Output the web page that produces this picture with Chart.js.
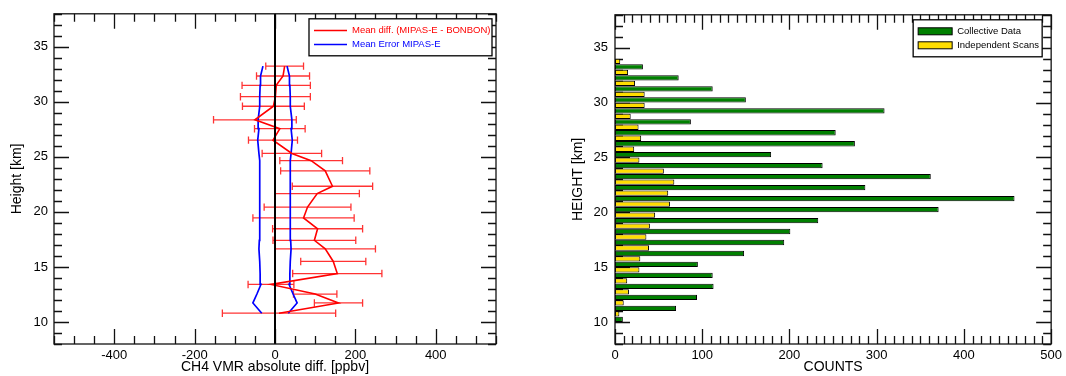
<!DOCTYPE html>
<html>
<head>
<meta charset="utf-8">
<script src="https://cdn.jsdelivr.net/npm/chart.js@4.4.1/dist/chart.umd.min.js"></script>
<style>
body { margin: 0; background: #fff; }
#wrap { position: relative; width: 1066px; height: 376px; }
canvas { position: absolute; top: 0; }
#left { left: 0; }
#right { left: 533px; }
</style>
</head>
<body>
<div id="wrap">
<canvas id="left" width="533" height="376"></canvas>
<canvas id="right" width="533" height="376"></canvas>
</div>
<script>
// left panel: CH4 difference profile (MIPAS-E - BONBON)
var diffHeights = [10.8, 11.73, 12.54, 13.41, 14.4, 15.5, 16.64, 17.42, 18.47, 19.45, 20.44, 21.67, 22.33, 23.73, 24.66, 25.31, 26.52, 27.56, 28.37, 29.6, 30.47, 31.5, 32.35, 33.25];
var meanDiff = [10, 158, 100, -10, 155, 145, 125, 98, 106, 71, 81, 105, 143, 125, 90, 42, -5, 12, -50, -4, 1, 3, 20, 24];
var diffSpread = [141, 60, 54, 57, 111, 81, 125, 103, 112, 126, 108, 105, 100, 111, 78, 74, 61, 63, 103, 77, 87, 85, 66, 47];
var meanError = [33, 55, 45, 35, 37, 38, 40, 39, 38, 38, 38, 38, 38, 38, 38, 40, 43, 40, 42, 38, 38, 37, 36, 30];
var diffTicks = [-400, -200, 0, 200, 400];

// right panel: counts per height bin
var collectiveHeights = [10.25, 11.25, 12.25, 13.25, 14.25, 15.25, 16.25, 17.25, 18.25, 19.25, 20.25, 21.25, 22.25, 23.25, 24.25, 25.25, 26.25, 27.25, 28.25, 29.25, 30.25, 31.25, 32.25, 33.25];
var collectiveCounts = [9, 70, 94, 113, 112, 95, 148, 194, 201, 233, 371, 458, 287, 362, 238, 179, 275, 253, 87, 309, 150, 112, 73, 32];
var independentHeights = [10.75, 11.75, 12.75, 13.75, 14.75, 15.75, 16.75, 17.75, 18.75, 19.75, 20.75, 21.75, 22.75, 23.75, 24.75, 25.75, 26.75, 27.75, 28.75, 29.75, 30.75, 31.75, 32.75, 33.75];
var independentCounts = [5, 10, 16, 14, 28, 29, 39, 36, 40, 46, 63, 61, 68, 56, 28, 22, 30, 27, 18, 34, 34, 23, 15, 6];
var countTicks = [0, 100, 200, 300, 400, 500];

var heightTicks = [10, 15, 20, 25, 30, 35];
var heightMin = 8, heightMax = 38;

var font = "'Liberation Sans', Arial, Helvetica, sans-serif";
Chart.defaults.font.family = font;
Chart.defaults.color = '#000';

function points(xs, ys) {
    return xs.map(function (v, i) { return { x: v, y: ys[i] }; });
}

function isMultiple(v, step) {
    var r = Math.abs(v / step - Math.round(v / step));
    return r < 1e-6;
}

// inward ticks on all four sides, IDL style
var frameTicks = {
    id: 'frameTicks',
    beforeDatasetsDraw: function (chart, args, o) {
        var ctx = chart.ctx, a = chart.chartArea;
        var xs = chart.scales.x, ys = chart.scales.y;
        ctx.save();
        ctx.strokeStyle = '#111';
        ctx.lineWidth = 1.3;
        ctx.beginPath();
        var v, p, len;
        for (v = Math.ceil(xs.min / o.xMinor) * o.xMinor; v <= xs.max + 1e-6; v += o.xMinor) {
            p = Math.round(xs.getPixelForValue(v)) + 0.5;
            len = isMultiple(v, o.xMajor) ? 15 : 8;
            ctx.moveTo(p, a.bottom); ctx.lineTo(p, a.bottom - len);
            ctx.moveTo(p, a.top); ctx.lineTo(p, a.top + len);
        }
        for (v = Math.ceil(ys.min / o.yMinor) * o.yMinor; v <= ys.max + 1e-6; v += o.yMinor) {
            p = Math.round(ys.getPixelForValue(v)) + 0.5;
            len = isMultiple(v, o.yMajor) ? 15 : 8;
            ctx.moveTo(a.left, p); ctx.lineTo(a.left + len, p);
            ctx.moveTo(a.right, p); ctx.lineTo(a.right - len, p);
        }
        ctx.stroke();
        ctx.restore();
    },
    afterDatasetsDraw: function (chart) {
        var ctx = chart.ctx, a = chart.chartArea;
        ctx.save();
        ctx.strokeStyle = '#111';
        ctx.lineWidth = 1.3;
        ctx.strokeRect(a.left, a.top, a.right - a.left, a.bottom - a.top);
        ctx.restore();
    }
};

// horizontal error bars for datasets that carry an "errors" array
var errorBars = {
    id: 'errorBars',
    beforeDatasetsDraw: function (chart) {
        var ctx = chart.ctx, a = chart.chartArea;
        var xs = chart.scales.x, ys = chart.scales.y;
        ctx.save();
        ctx.beginPath();
        ctx.rect(a.left, a.top, a.right - a.left, a.bottom - a.top);
        ctx.clip();
        chart.data.datasets.forEach(function (ds) {
            if (!ds.errors) return;
            ctx.strokeStyle = 'rgba(255, 0, 0, 0.8)';
            ctx.lineWidth = 1.3;
            ctx.beginPath();
            ds.data.forEach(function (pt, i) {
                var y = ys.getPixelForValue(pt.y);
                var x1 = xs.getPixelForValue(pt.x - ds.errors[i]);
                var x2 = xs.getPixelForValue(pt.x + ds.errors[i]);
                ctx.moveTo(x1, y); ctx.lineTo(x2, y);
                ctx.moveTo(x1, y - 3.7); ctx.lineTo(x1, y + 3.7);
                ctx.moveTo(x2, y - 3.7); ctx.lineTo(x2, y + 3.7);
            });
            ctx.stroke();
        });
        ctx.restore();
    }
};

// boxed legend in the upper right corner of the plot
var boxLegend = {
    id: 'boxLegend',
    afterDraw: function (chart, args, o) {
        var ctx = chart.ctx, a = chart.chartArea;
        var x = a.right - o.right - o.width, y = a.top + o.top;
        ctx.save();
        ctx.fillStyle = '#fff';
        ctx.fillRect(x, y, o.width, o.height);
        ctx.strokeStyle = '#000';
        ctx.lineWidth = 1.3;
        ctx.strokeRect(x, y, o.width, o.height);
        ctx.font = o.fontSize + 'px ' + font;
        ctx.textBaseline = 'middle';
        o.show.forEach(function (idx, i) {
            var ds = chart.data.datasets[idx];
            var ry = y + o.rowTop + i * o.rowGap;
            if (o.kind === 'line') {
                ctx.strokeStyle = ds.borderColor;
                ctx.lineWidth = 1.5;
                ctx.beginPath();
                ctx.moveTo(x + 5, ry); ctx.lineTo(x + o.sampleW, ry);
                ctx.stroke();
                ctx.fillStyle = ds.borderColor;
            } else {
                ctx.fillStyle = ds.backgroundColor;
                ctx.fillRect(x + 5, ry - 3.5, o.sampleW - 5, 7);
                ctx.strokeStyle = '#000';
                ctx.lineWidth = 1;
                ctx.strokeRect(x + 5, ry - 3.5, o.sampleW - 5, 7);
                ctx.fillStyle = '#000';
            }
            ctx.fillText(ds.label, x + o.textX, ry);
        });
        ctx.restore();
    }
};

function heightAxis(title, width, titlePad, labelPad) {
    return {
        type: 'linear',
        min: heightMin,
        max: heightMax,
        offset: false,
        grid: { display: false, drawTicks: false, offset: false },
        border: { display: false },
        afterBuildTicks: function (s) { s.ticks = heightTicks.map(function (v) { return { value: v }; }); },
        afterFit: function (s) { s.width = width; },
        ticks: { padding: labelPad, font: { size: 13 }, autoSkip: false, color: '#000' },
        title: { display: true, text: title, font: { size: 14 }, padding: { top: titlePad, bottom: 0 }, color: '#000' }
    };
}

function valueAxis(title, min, max, tickList) {
    return {
        type: 'linear',
        min: min,
        max: max,
        grid: { display: false, drawTicks: false },
        border: { display: false },
        afterBuildTicks: function (s) { s.ticks = tickList.map(function (v) { return { value: v }; }); },
        afterFit: function (s) { s.height = 32; },
        ticks: { padding: 4, font: { size: 13 }, autoSkip: false, maxRotation: 0, color: '#000' },
        title: { display: true, text: title, font: { size: 14 }, padding: { top: 0, bottom: 0 }, color: '#000' }
    };
}

new Chart(document.getElementById('left'), {
    type: 'scatter',
    data: {
        datasets: [{
            label: 'zero',
            data: [{ x: 0, y: heightMin }, { x: 0, y: heightMax }],
            showLine: true, borderColor: '#000', borderWidth: 2, pointRadius: 0
        }, {
            label: 'Mean diff. (MIPAS-E - BONBON)',
            data: points(meanDiff, diffHeights),
            errors: diffSpread,
            showLine: true, borderColor: '#ff0000', borderWidth: 1.6, pointRadius: 0
        }, {
            label: 'Mean Error MIPAS-E',
            data: points(meanError.map(function (e) { return -e; }), diffHeights),
            showLine: true, borderColor: '#0000ff', borderWidth: 1.7, pointRadius: 0
        }, {
            label: 'Mean Error MIPAS-E',
            data: points(meanError, diffHeights),
            showLine: true, borderColor: '#0000ff', borderWidth: 1.7, pointRadius: 0
        }]
    },
    options: {
        responsive: false,
        animation: false,
        devicePixelRatio: 1,
        layout: { padding: { left: 0, top: 10, right: 37, bottom: 0 } },
        plugins: {
            legend: { display: false },
            tooltip: { enabled: false },
            frameTicks: { xMinor: 50, xMajor: 200, yMinor: 1, yMajor: 5 },
            boxLegend: { show: [1, 2], kind: 'line', right: 4, top: 5, width: 183, height: 37, rowTop: 11.7, rowGap: 14, sampleW: 38, textX: 43, fontSize: 9.5 }
        },
        scales: {
            x: valueAxis('CH4 VMR absolute diff. [ppbv]', -550, 550, diffTicks),
            y: heightAxis('Height [km]', 54, 8.6, 6)
        }
    },
    plugins: [errorBars, frameTicks, boxLegend]
});

new Chart(document.getElementById('right'), {
    type: 'bar',
    data: {
        datasets: [{
            label: 'Collective Data',
            data: points(collectiveCounts, collectiveHeights),
            backgroundColor: '#008000', borderColor: '#000', borderWidth: 1, borderSkipped: false,
            grouped: false, categoryPercentage: 1, barPercentage: 0.97
        }, {
            label: 'Independent Scans',
            data: points(independentCounts, independentHeights),
            backgroundColor: '#ffdd00', borderColor: '#000', borderWidth: 1, borderSkipped: false,
            grouped: false, categoryPercentage: 1, barPercentage: 0.97
        }]
    },
    options: {
        indexAxis: 'y',
        responsive: false,
        animation: false,
        devicePixelRatio: 1,
        layout: { padding: { left: 0, top: 10, right: 11, bottom: 0 } },
        plugins: {
            legend: { display: false },
            tooltip: { enabled: false },
            frameTicks: { xMinor: 10, xMajor: 100, yMinor: 1, yMajor: 5 },
            boxLegend: { show: [0, 1], kind: 'box', right: 9, top: 5, width: 129, height: 37, rowTop: 11.5, rowGap: 14, sampleW: 39, textX: 44, fontSize: 9.5 }
        },
        scales: {
            x: valueAxis('COUNTS', 0, 500, countTicks),
            y: heightAxis('HEIGHT [km]', 82, 36.6, 7)
        }
    },
    plugins: [frameTicks, boxLegend]
});
</script>
</body>
</html>
